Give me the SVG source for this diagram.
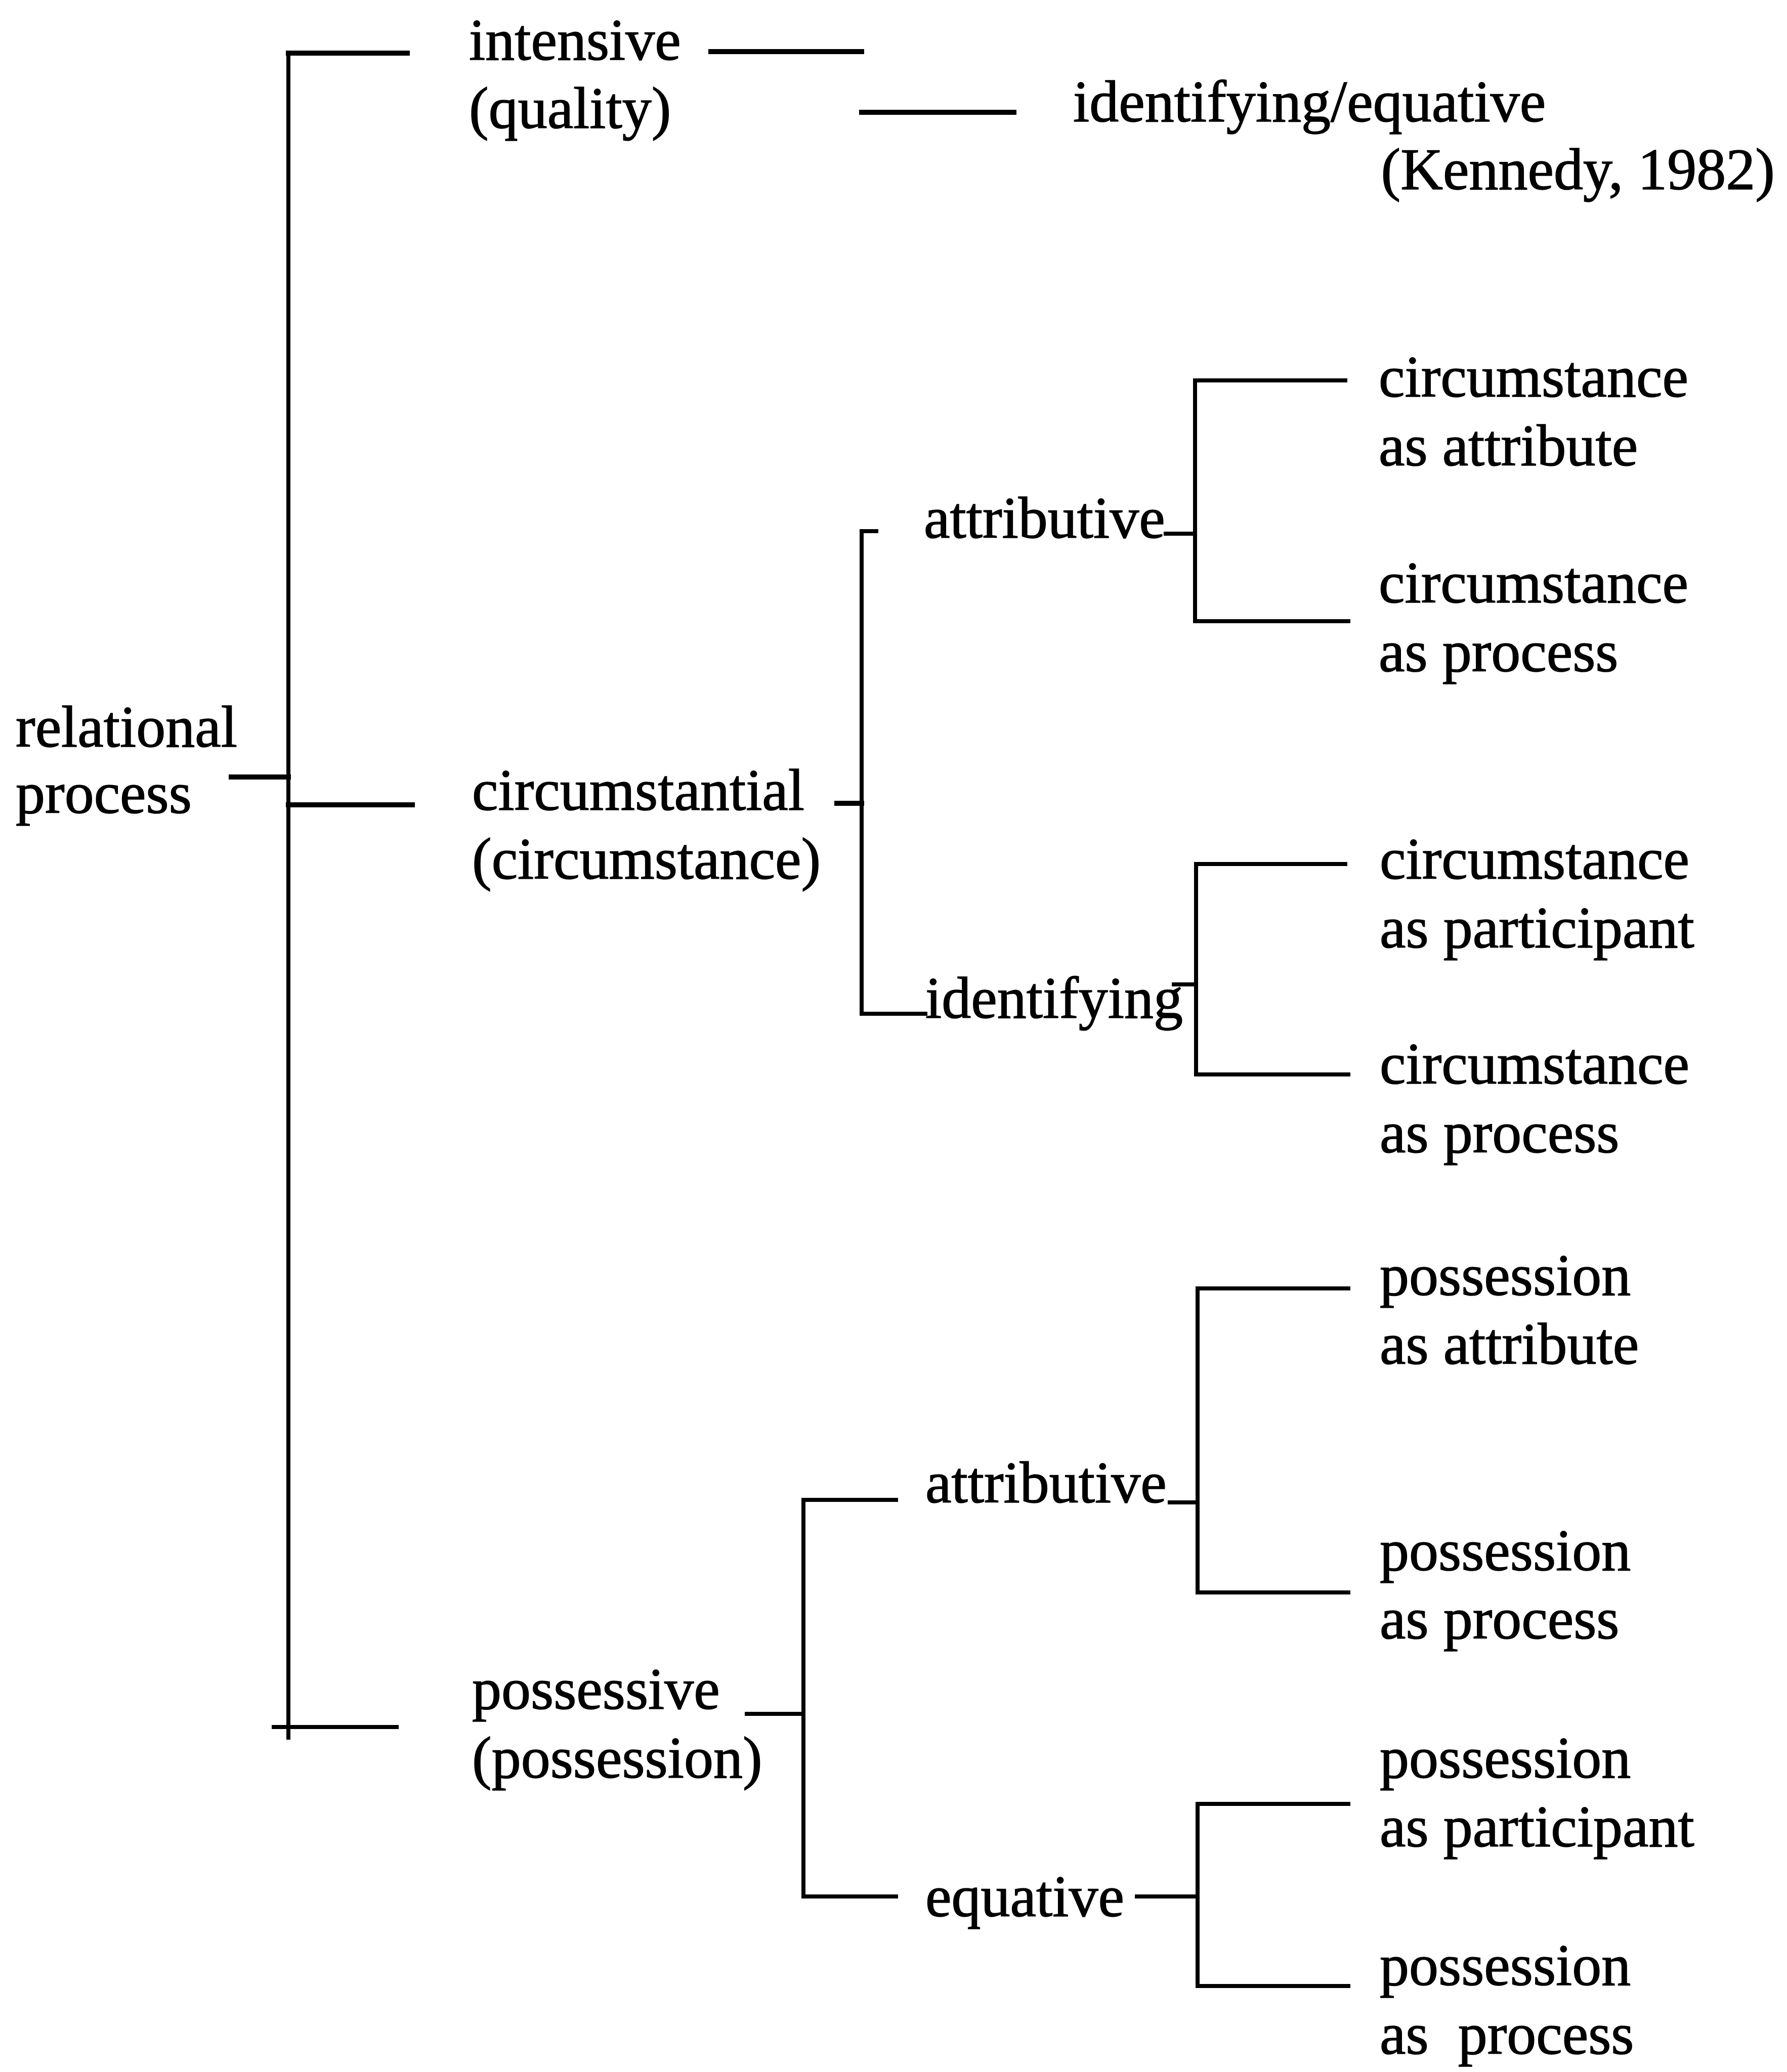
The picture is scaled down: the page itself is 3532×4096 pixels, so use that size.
<svg xmlns="http://www.w3.org/2000/svg" width="3532" height="4096" viewBox="0 0 3532 4096">
  <style>
    .bg { fill: #ffffff; }
    .lbl { font-family: "Liberation Serif", "Times New Roman", serif; font-size: 116px; fill: #000000; stroke: #000000; stroke-width: 1.5; }
    .end { text-anchor: end; }
    .ln { stroke: #000000; stroke-width: 8; stroke-linecap: square; fill: none; }
    .thick { stroke-width: 10; }
  </style>
  <rect class="bg" x="0" y="0" width="3532" height="4096"/>

  <!-- connectors: brackets joining each term to its subtypes -->
  <g id="connectors">
    <!-- root bracket -->
    <path class="ln" d="M570 105 V3435"/>
    <path class="ln thick" d="M570 105 H805"/>
    <path class="ln thick" d="M457 1536 H570"/>
    <path class="ln thick" d="M570 1591 H815"/>
    <path class="ln" d="M541 3414 H784"/>
    <!-- intensive branch -->
    <path class="ln thick" d="M1405 102 H1703"/>
    <path class="ln thick" d="M1703 222 H2004"/>
    <!-- circumstantial bracket -->
    <path class="ln thick" d="M1654 1588 H1703"/>
    <path class="ln" d="M1703 1050 V2004"/>
    <path class="ln" d="M1703 1050 H1732"/>
    <path class="ln" d="M1703 2004 H1829"/>
    <!-- circumstantial / attributive -->
    <path class="ln" d="M2304 1055 H2362"/>
    <path class="ln" d="M2362 752 V1228"/>
    <path class="ln" d="M2362 752 H2659"/>
    <path class="ln" d="M2362 1228 H2665"/>
    <!-- circumstantial / identifying -->
    <path class="ln" d="M2320 1946 H2364"/>
    <path class="ln" d="M2364 1708 V2124"/>
    <path class="ln" d="M2364 1708 H2659"/>
    <path class="ln" d="M2364 2124 H2665"/>
    <!-- possessive bracket -->
    <path class="ln" d="M1476 3388 H1588"/>
    <path class="ln" d="M1588 2965 V3749"/>
    <path class="ln" d="M1588 2965 H1771"/>
    <path class="ln" d="M1588 3749 H1771"/>
    <!-- possessive / attributive -->
    <path class="ln" d="M2312 2970 H2367"/>
    <path class="ln" d="M2367 2547 V3148"/>
    <path class="ln" d="M2367 2547 H2665"/>
    <path class="ln" d="M2367 3148 H2665"/>
    <!-- possessive / equative -->
    <path class="ln" d="M2247 3749 H2367"/>
    <path class="ln" d="M2367 3566 V3926"/>
    <path class="ln" d="M2367 3566 H2665"/>
    <path class="ln" d="M2367 3926 H2665"/>
  </g>

  <g id="node-relational">
    <text class="lbl" x="31" y="1476">relational</text>
    <text class="lbl" x="31" y="1607">process</text>
  </g>

  <g id="node-intensive">
    <text class="lbl" x="927" y="118">intensive</text>
    <text class="lbl" x="927" y="253">(quality)</text>
  </g>
  <g id="node-identifying-equative">
    <text class="lbl" x="2121" y="240">identifying/equative</text>
    <text class="lbl end" x="3508" y="374">(Kennedy, 1982)</text>
  </g>

  <g id="node-circumstantial">
    <text class="lbl" x="933" y="1601">circumstantial</text>
    <text class="lbl" x="933" y="1737">(circumstance)</text>
  </g>
  <g id="node-circ-attributive">
    <text class="lbl" x="1826" y="1063">attributive</text>
  </g>
  <g id="node-circ-identifying">
    <text class="lbl" x="1829" y="2012">identifying</text>
  </g>
  <g id="node-circ-as-attribute">
    <text class="lbl" x="2725" y="784">circumstance</text>
    <text class="lbl" x="2725" y="920">as attribute</text>
  </g>
  <g id="node-circ-as-process-1">
    <text class="lbl" x="2725" y="1191">circumstance</text>
    <text class="lbl" x="2725" y="1327">as process</text>
  </g>
  <g id="node-circ-as-participant">
    <text class="lbl" x="2727" y="1737">circumstance</text>
    <text class="lbl" x="2727" y="1873">as participant</text>
  </g>
  <g id="node-circ-as-process-2">
    <text class="lbl" x="2727" y="2142">circumstance</text>
    <text class="lbl" x="2727" y="2278">as process</text>
  </g>

  <g id="node-possessive">
    <text class="lbl" x="933" y="3378">possessive</text>
    <text class="lbl" x="933" y="3514">(possession)</text>
  </g>
  <g id="node-poss-attributive">
    <text class="lbl" x="1829" y="2970">attributive</text>
  </g>
  <g id="node-poss-equative">
    <text class="lbl" x="1829" y="3788">equative</text>
  </g>
  <g id="node-poss-as-attribute">
    <text class="lbl" x="2727" y="2560">possession</text>
    <text class="lbl" x="2727" y="2696">as attribute</text>
  </g>
  <g id="node-poss-as-process-1">
    <text class="lbl" x="2727" y="3104">possession</text>
    <text class="lbl" x="2727" y="3239">as process</text>
  </g>
  <g id="node-poss-as-participant">
    <text class="lbl" x="2727" y="3514">possession</text>
    <text class="lbl" x="2727" y="3650">as participant</text>
  </g>
  <g id="node-poss-as-process-2">
    <text class="lbl" x="2727" y="3924">possession</text>
    <text class="lbl" x="2727" y="4060" xml:space="preserve">as  process</text>
  </g>
</svg>
